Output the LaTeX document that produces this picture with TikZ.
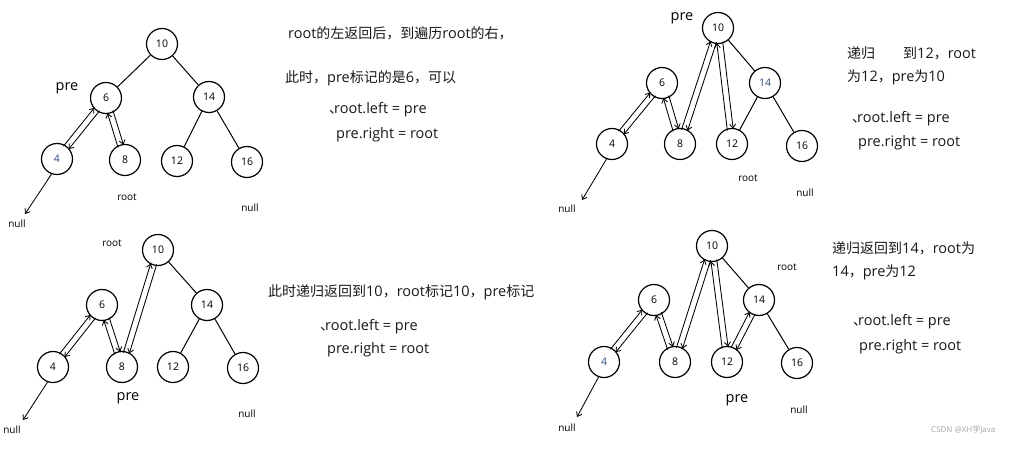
\documentclass[tikz,border=0pt]{standalone}
\usepackage{fontspec}
\setmainfont{Open Sans}
\newfontfamily\cjkf{Noto Sans CJK SC}
\newcommand\cj[1]{{\cjkf\fontsize{14}{16}\selectfont #1}}
\usetikzlibrary{arrows.meta,calc}
\definecolor{nblue}{HTML}{2B4C7E}
\tikzset{
  tn/.style={circle,draw,line width=1.2pt,minimum size=31pt,inner sep=0pt,font=\fontsize{10.5}{13}\selectfont},
  ed/.style={line width=1pt},
  ar/.style={line width=0.85pt,-{Straight Barb[length=4pt,width=6pt]}},
  lbl/.style={font=\fontsize{10}{12}\selectfont,inner sep=0pt},
  prel/.style={font=\fontsize{14.5}{16}\selectfont,inner sep=0pt},
  txt/.style={font=\fontsize{14.5}{16}\selectfont,anchor=west,inner sep=0pt,text=black!90},
}
\newcommand\dblar[2]{%
  \draw[ar,shorten <=14pt,shorten >=15pt] ($(#1)!3pt!90:(#2)$) -- ($(#2)!3pt!-90:(#1)$);
  \draw[ar,shorten <=14pt,shorten >=15pt] ($(#2)!3pt!90:(#1)$) -- ($(#1)!3pt!-90:(#2)$);}
\newcommand\mk{\llap{\cj{、}\kern-9pt}}
\begin{document}
\begin{tikzpicture}[x=1pt,y=-1pt]
\useasboundingbox (0,0) rectangle (1019,470);
\fill[white] (0,0) rectangle (1019,470);
% ---------- Q1 ----------
\node[tn] (A10) at (162,44) {10};
\node[tn] (A6) at (106,98) {6};
\node[tn] (A14) at (209,97) {14};
\node[tn,text=nblue] (A4) at (57,159) {4};
\node[tn] (A8) at (125,160) {8};
\node[tn] (A12) at (177,161) {12};
\node[tn] (A16) at (247,162) {16};
\draw[ed] (A10) -- (A6);
\draw[ed] (A10) -- (A14);
\draw[ed] (A14) -- (A12);
\draw[ed] (A14) -- (A16);
\dblar{A6}{A4}
\dblar{A6}{A8}
\coordinate (An) at (25,214);
\draw[ar] (A4.-110) -- (An);
\node[prel] (Apre) at (67,88) {pre};
\node[lbl] (Aroot) at (127,197) {root};
\node[lbl] (Anr) at (250,208) {null};
\node[lbl] (Anl) at (17,224) {null};
\node[txt] (At1) at (288,33) {root\cj{的左返回后，到遍历}root\cj{的右，}};
\node[txt] (At2) at (285,78) {\cj{此时，}pre\cj{标记的是}6\cj{，可以}};
\node[txt] (At3) at (334,110) {\mk root.left = pre};
\node[txt] (At4) at (336,135) {pre.right = root};
% ---------- Q2 ----------
\node[tn] (B10) at (718,28) {10};
\node[tn] (B6) at (662,83) {6};
\node[tn,text=nblue] (B14) at (765,83) {14};
\node[tn] (B4) at (612,144) {4};
\node[tn] (B8) at (680,144) {8};
\node[tn] (B12) at (732,144) {12};
\node[tn] (B16) at (802,146) {16};
\draw[ed] (B10) -- (B14);
\draw[ed] (B14) -- (B12);
\draw[ed] (B14) -- (B16);
\dblar{B6}{B4}
\dblar{B6}{B8}
\dblar{B8}{B10}
\dblar{B10}{B12}
\coordinate (Bn) at (582,200);
\draw[ar] (B4.-110) -- (Bn);
\node[prel] (Bpre) at (682,18) {pre};
\node[lbl] (Broot) at (748,178) {root};
\node[lbl] (Bnr) at (805,193) {null};
\node[lbl] (Bnl) at (567,209) {null};
\node[txt] (Bt1) at (847,53) {\cj{递归}\hspace{28pt}\cj{到}12\cj{，}root};
\node[txt] (Bt2) at (847,77) {\cj{为}12\cj{，}pre\cj{为}10};
\node[txt] (Bt3) at (857,119) {\mk root.left = pre};
\node[txt] (Bt4) at (858,143) {pre.right = root};
% ---------- Q3 ----------
\node[tn] (C10) at (158,250) {10};
\node[tn] (C6) at (102,305) {6};
\node[tn] (C14) at (207,305) {14};
\node[tn] (C4) at (53,367) {4};
\node[tn] (C8) at (122,367) {8};
\node[tn] (C12) at (173,367) {12};
\node[tn] (C16) at (243,368) {16};
\draw[ed] (C10) -- (C14);
\draw[ed] (C14) -- (C12);
\draw[ed] (C14) -- (C16);
\dblar{C6}{C4}
\dblar{C6}{C8}
\dblar{C8}{C10}
\coordinate (Cn) at (23,420);
\draw[ar] (C4.-110) -- (Cn);
\node[lbl] (Croot) at (112,243) {root};
\node[prel] (Cpre) at (128,398) {pre};
\node[lbl] (Cnr) at (247,414) {null};
\node[lbl] (Cnl) at (12,430) {null};
\node[txt] (Ct1) at (268,292) {\cj{此时递归返回到}10\cj{，}root\cj{标记}10\cj{，}pre\cj{标记}};
\node[txt] (Ct3) at (325,327) {\mk root.left = pre};
\node[txt] (Ct4) at (327,350) {pre.right = root};
% ---------- Q4 ----------
\node[tn] (D10) at (712,246) {10};
\node[tn] (D6) at (654,300) {6};
\node[tn] (D14) at (759,300) {14};
\node[tn,text=nblue] (D4) at (604,362) {4};
\node[tn] (D8) at (675,362) {8};
\node[tn] (D12) at (727,362) {12};
\node[tn] (D16) at (797,363) {16};
\draw[ed] (D10) -- (D14);
\draw[ed] (D14) -- (D16);
\dblar{D6}{D4}
\dblar{D6}{D8}
\dblar{D8}{D10}
\dblar{D10}{D12}
\dblar{D12}{D14}
\coordinate (Dn) at (577,417);
\draw[ar] (D4.-110) -- (Dn);
\node[lbl] (Droot) at (787,267) {root};
\node[prel] (Dpre) at (737,400) {pre};
\node[lbl] (Dnr) at (799,410) {null};
\node[lbl] (Dnl) at (567,428) {null};
\node[txt] (Dt1) at (832,248) {\cj{递归返回到}14\cj{，}root\cj{为}};
\node[txt] (Dt2) at (832,272) {14\cj{，}pre\cj{为}12};
\node[txt] (Dt3) at (858,322) {\mk root.left = pre};
\node[txt] (Dt4) at (859,347) {pre.right = root};
% watermark
\node[font=\fontsize{8}{9}\selectfont,text=black!35,anchor=west,inner sep=0pt] (wm) at (931,430) {CSDN @XH\cj{\fontsize{8}{9}\selectfont 学}Java};
\end{tikzpicture}
\end{document}
